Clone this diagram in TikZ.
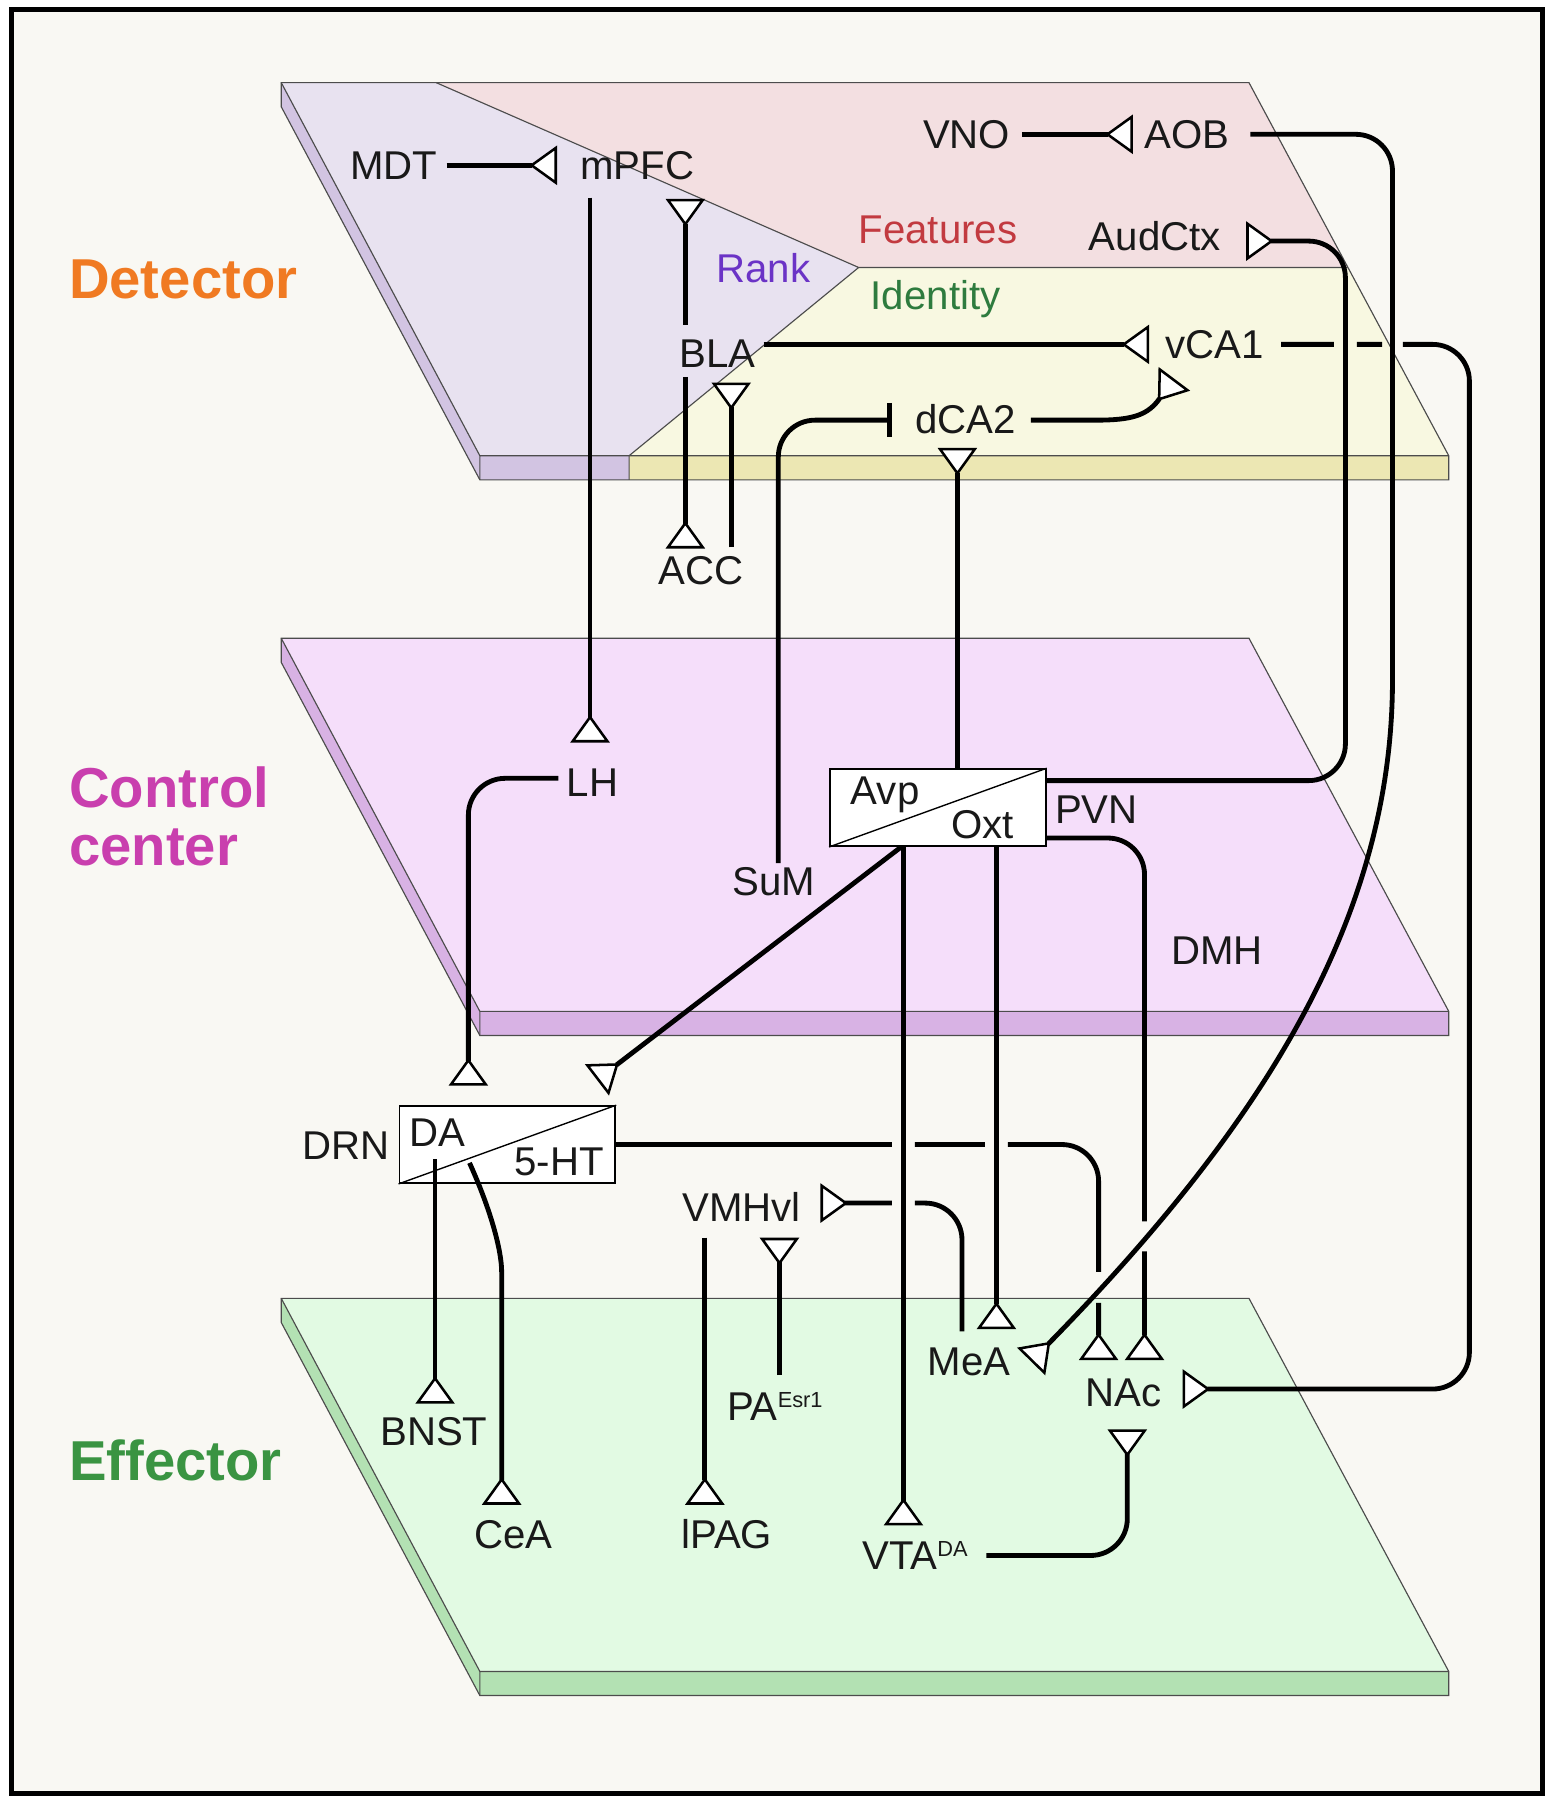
\documentclass[tikz,border=0pt]{standalone}
\usepackage{fontspec}
\setmainfont{Liberation Sans}
\usepackage{xcolor}
\usepackage{tikz}
\usetikzlibrary{arrows.meta,positioning}

\definecolor{bgpaper}{HTML}{F9F8F3}
\definecolor{rankface}{HTML}{E8E2F0}
\definecolor{rankside}{HTML}{D2C4E2}
\definecolor{featface}{HTML}{F3DFE1}
\definecolor{idface}{HTML}{F8F8E1}
\definecolor{idside}{HTML}{ECE7B3}
\definecolor{ctlface}{HTML}{F5DEFA}
\definecolor{ctlside}{HTML}{D8B2E4}
\definecolor{effface}{HTML}{E2FAE3}
\definecolor{effside}{HTML}{B3E1B3}
\definecolor{detcol}{HTML}{F07A22}
\definecolor{ctlcol}{HTML}{C93FAE}
\definecolor{effcol}{HTML}{3A9442}
\definecolor{featcol}{HTML}{C23A40}
\definecolor{rankcol}{HTML}{6B33C6}
\definecolor{idcol}{HTML}{2E7B3E}

\begin{document}
\begin{tikzpicture}[
    x=1pt, y=-1pt,
    lbl/.style={font=\fontsize{35}{38}\selectfont, text=black!90, inner sep=0pt, text height=24pt, text depth=0pt},
    layer/.style={font=\bfseries\fontsize{49}{50}\selectfont, inner sep=0pt, anchor=west, align=left},
    hub/.style={rectangle, draw=black, fill=white, line width=1.6pt, minimum width=188pt, minimum height=67pt, inner sep=0pt},
    edge/.style={draw=black!70, line width=1pt},
    axon/.style={line width=4.2pt, rounded corners=32pt},
    syn/.style={-{Triangle[reversed, fill=white, length=24pt, width=34pt, line width=2.2pt]}},
    inhib/.style={-{Bar[width=30pt]}}
]

% paper and frame
\fill[white] (0,0) rectangle (1351,1568);
\draw[line width=4.5pt, fill=bgpaper] (10,8) rectangle (1344,1562);

% detector plane
\fill[rankside] (245,72) -- (418,397) -- (418,418) -- (245,93) -- cycle;
\fill[rankside] (418,397) rectangle (548,418);
\fill[idside] (548,397) rectangle (1262,418);
\fill[rankface] (245,72) -- (380,72) -- (748,233) -- (548,397) -- (418,397) -- cycle;
\fill[featface] (380,72) -- (1088,72) -- (1174,233) -- (748,233) -- cycle;
\fill[idface] (748,233) -- (1174,233) -- (1262,397) -- (548,397) -- cycle;
\draw[edge] (245,93) -- (245,72) -- (1088,72) -- (1262,397) -- (1262,418) -- (418,418) -- cycle;
\draw[edge] (245,72) -- (418,397) -- (1262,397) (418,397) -- (418,418);
\draw[edge] (380,72) -- (748,233) -- (548,397) -- (548,418) (748,233) -- (1174,233);

% control center and effector planes
\foreach \dy/\face/\side in {484/ctlface/ctlside, 1059/effface/effside} {
  \begin{scope}[shift={(0,\dy)}]
    \fill[\side] (245,72) -- (418,397) -- (418,418) -- (245,93) -- cycle;
    \fill[\side] (418,397) rectangle (1262,418);
    \fill[\face] (245,72) -- (1088,72) -- (1262,397) -- (418,397) -- cycle;
    \draw[edge] (245,93) -- (245,72) -- (1088,72) -- (1262,397) -- (1262,418) -- (418,418) -- cycle;
    \draw[edge] (245,72) -- (418,397) -- (1262,397) (418,397) -- (418,418);
  \end{scope}
}

% layer names
\node[layer, text=detcol] (detector) at (60,243) {Detector};
\node[layer, text=ctlcol] (control) at (60,711) {Control\\center};
\node[layer, text=effcol] (effector) at (60,1272) {Effector};

% hubs
\node[hub] (pvnbox) at (817,703.5) {};
\draw[line width=1.2pt] (pvnbox.south west) -- (pvnbox.north east);
\node[hub] (drnbox) at (442,997) {};
\draw[line width=1.2pt] (drnbox.south west) -- (drnbox.north east);
\node[lbl] (avp) at (771,689) {Avp};
\node[lbl] (oxt) at (856,718) {Oxt};
\node[lbl] (da) at (381,987) {DA};
\node[lbl] (ht) at (487,1012) {5-HT};

% regions
\node[lbl] (mdt) at (343,144) {MDT};
\node[lbl] (mpfc) at (555,144) {mPFC};
\node[lbl] (vno) at (842,117) {VNO};
\node[lbl] (aob) at (1034,117) {AOB};
\node[lbl, text=featcol] (feat) at (817,200) {Features};
\node[lbl] (audctx) at (1006,206) {AudCtx};
\node[lbl, text=rankcol] (rank) at (665,234) {Rank};
\node[lbl, text=idcol] (ident) at (815,258) {Identity};
\node[lbl] (bla) at (625,308) {BLA};
\node[lbl] (vca1) at (1058,300) {vCA1};
\node[lbl] (dca2) at (841,366) {dCA2};
\node[lbl] (acc) at (611,497) {ACC};
\node[lbl] (lh) at (516,682) {LH};
\node[lbl] (sum) at (674,768) {SuM};
\node[lbl] (pvn) at (955,705) {PVN};
\node[lbl] (dmh) at (1060,828) {DMH};
\node[lbl] (drn) at (301,998) {DRN};
\node[lbl] (vmhvl) at (646,1052) {VMHvl};
\node[lbl] (pa) at (675,1225) {PA\raisebox{11pt}{\fontsize{19}{19}\selectfont Esr1}};
\node[lbl] (mea) at (844,1186) {MeA};
\node[lbl] (nac) at (979,1213) {NAc};
\node[lbl] (bnst) at (378,1247) {BNST};
\node[lbl] (cea) at (447,1337) {CeA};
\node[lbl] (lpag) at (633,1337) {lPAG};
\node[lbl] (vta) at (797,1355) {VTA\raisebox{11pt}{\fontsize{19}{19}\selectfont DA}};

% detector projections
\draw[axon, syn] ([xshift=10pt]vno.east) -- ([xshift=-10pt]aob.west);
\draw[axon, syn] ([xshift=8pt]mdt.east) -- ([xshift=-20pt]mpfc.west);
\draw[axon, syn] ([xshift=7pt,yshift=8pt]bla.east) -- ([xshift=-14pt]vca1.west);
\draw[axon, syn] ([xshift=-28pt,yshift=13pt]bla.north) -- ([xshift=42pt,yshift=-17pt]mpfc.south);
\draw[axon, syn] ([xshift=-28pt,yshift=-8pt]bla.south) -- ([xshift=-14pt,yshift=7pt]acc.north);
\draw[axon, syn] ([xshift=26pt,yshift=8pt]acc.north) -- ([xshift=12pt,yshift=-13pt]bla.south);
\draw[axon, syn, sharp corners] ([xshift=13pt]dca2.east) -- (955,366) .. controls (985,366) and (998,362) .. (1008,350) -- ([xshift=-35pt,yshift=-30pt]vca1.center);
\draw[axon, syn] ([xshift=-41pt,yshift=-16pt]mpfc.south) -- ([xshift=-2pt,yshift=23pt]lh.north);
\draw[axon, syn] ([xshift=18pt]aob.east) -| (1213,560) .. controls (1213,800) and (1100,980) .. ([xshift=18pt]mea.east);
\draw[axon, syn] ([xshift=15pt]vca1.east) -- (1162,300) (1182,300) -- (1204,300) (1222,300) -| (1280,1210) -- ([xshift=18pt,yshift=3pt]nac.east);

% control center projections
\draw[axon, syn] ([yshift=23.5pt]pvnbox.east) -| (1172,210) -- ([xshift=22pt,yshift=-4pt]audctx.east);
\draw[axon, inhib] ([xshift=4pt,yshift=4pt]sum.north) |- ([xshift=-20pt]dca2.west);
\draw[axon, syn] ([xshift=17pt]pvnbox.north) -- ([xshift=-7pt,yshift=-12pt]dca2.south);
\draw[axon, syn] ([xshift=-7pt,yshift=4pt]lh.west) -| ([xshift=-34pt,yshift=17pt]drnbox.north);
\draw[axon, syn] ([xshift=-32pt]pvnbox.south) -- ([xshift=78pt,yshift=22pt]drnbox.north);
\draw[axon, syn] ([xshift=-30pt]pvnbox.south) -- ([xshift=-10pt,yshift=14pt]vta.north);
\draw[axon, syn] ([xshift=51pt]pvnbox.south) -- ([xshift=24pt,yshift=16pt]mea.north);
\draw[axon, syn] ([yshift=-26.5pt]pvnbox.east) -| (997,1064) (997,1090) -- ([xshift=18pt,yshift=16pt]nac.north);

% drn and effector projections
\draw[axon, syn] (drnbox.east) -- (777,997) (797,997) -- (858,997) (878,997) -| (957,1108) (957,1135) -- ([xshift=-22pt,yshift=16pt]nac.north);
\draw[axon, syn] ([xshift=-63pt,yshift=-13pt]drnbox.center) -- ([xshift=1pt,yshift=12pt]bnst.north);
\draw[axon, syn] ([xshift=-33pt,yshift=-16pt]drnbox.center) .. controls (428,1055) and (437,1090) .. (437,1140) -- ([xshift=-10pt,yshift=14pt]cea.north);
\draw[axon, syn] ([xshift=-6pt,yshift=14pt]mea.north) |- (797,1048) (777,1048) -- ([xshift=17pt,yshift=4pt]vmhvl.east);
\draw[axon, syn] ([xshift=4pt,yshift=15pt]pa.north) -- ([xshift=33pt,yshift=-14pt]vmhvl.south);
\draw[axon, syn] ([xshift=-32pt,yshift=-14pt]vmhvl.south) -- ([xshift=-19pt,yshift=14pt]lpag.north);
\draw[axon, syn] ([xshift=16pt]vta.east) -| ([xshift=3pt,yshift=-20pt]nac.south);

\end{tikzpicture}
\end{document}
